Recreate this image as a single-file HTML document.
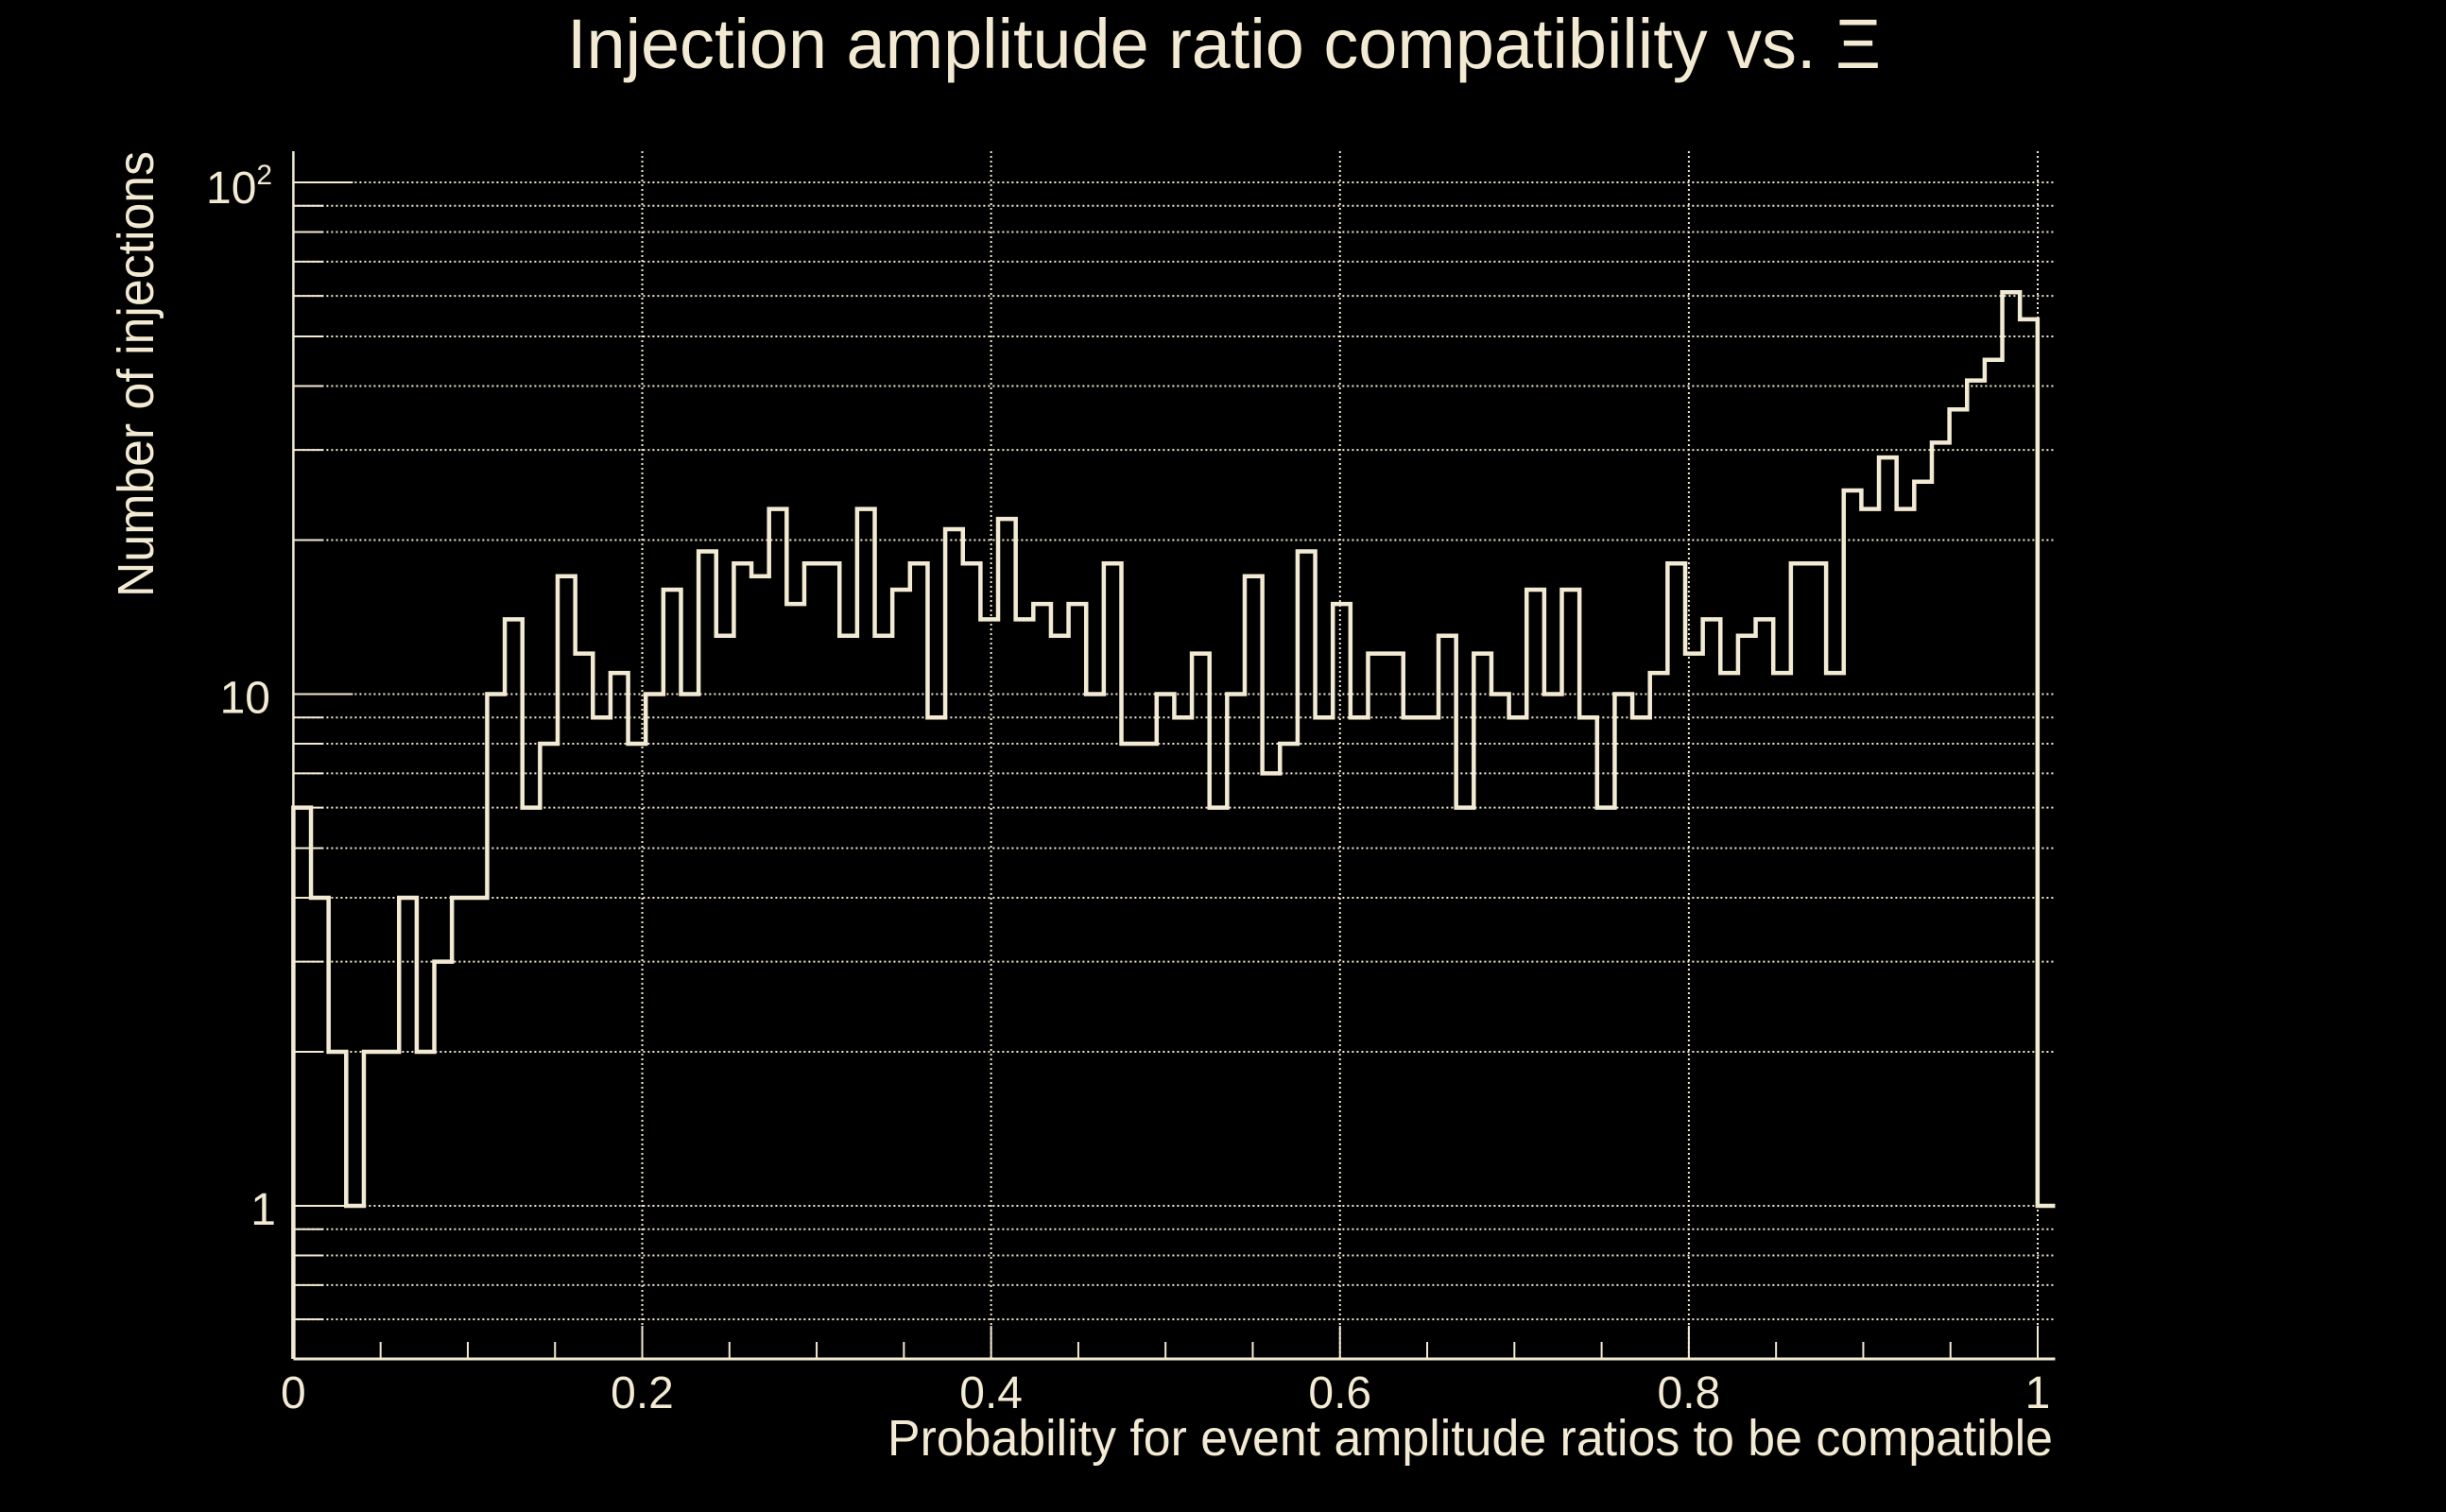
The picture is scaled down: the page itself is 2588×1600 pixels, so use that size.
<!DOCTYPE html>
<html><head><meta charset="utf-8"><style>
html,body{margin:0;padding:0;background:#000;}
svg{display:block;}
text{font-family:"Liberation Sans",sans-serif;fill:#f3ead3;}
</style></head><body>
<svg id="chart" width="2588" height="1600" viewBox="0 0 2588 1600" xmlns="http://www.w3.org/2000/svg">
<rect x="0" y="0" width="2588" height="1600" fill="#000"/>
<text x="600" y="72" font-size="74" textLength="1390" lengthAdjust="spacingAndGlyphs">Injection amplitude ratio compatibility vs.  Ξ</text>
<text transform="translate(162,632) rotate(-90)" font-size="54" textLength="472" lengthAdjust="spacingAndGlyphs">Number of injections</text>
<text x="2172" y="1540" font-size="54" text-anchor="end" textLength="1233" lengthAdjust="spacingAndGlyphs">Probability for event amplitude ratios to be compatible</text>
<g id="grid"></g>
<g id="axes"></g>
<g id="series"></g>
</svg>
<script>
const binCounts = [6,4,2,1,2,2,4,2,3,4,
4,10,14,6,8,17,12,9,11,8,
10,16,10,19,13,18,17,23,15,18,
18,13,23,13,16,18,9,21,18,14,
22,14,15,13,15,10,18,8,8,10,
9,12,6,10,17,7,8,19,9,15,
9,12,12,9,9,13,6,12,10,9,
16,10,16,9,6,10,9,11,18,12,
14,11,13,14,11,18,18,11,25,23,
29,23,26,31,36,41,45,61,54,1];
const binRange = [0, 1.01];
const xTickValues = [0, 0.2, 0.4, 0.6, 0.8, 1];
const xTickLabels = ["0", "0.2", "0.4", "0.6", "0.8", "1"];
const yMajorValues = [1, 10, 100];
const yMinorValues = [0.6,0.7,0.8,0.9,2,3,4,5,6,7,8,9,20,30,40,50,60,70,80,90];

const C = "#f3ead3";
const NS = "http://www.w3.org/2000/svg";
const X0 = 310.4, XS = 1845.6;
const xMax = 1.01;
function xs(v){ return X0 + v*XS; }
function ys(v){ return 1276 - 541.5*Math.log10(v); }
const TOP = 160, BOT = 1438, RIGHT = xs(xMax);

function mk(tag, attrs, parent){
  const el = document.createElementNS(NS, tag);
  for (const k in attrs) el.setAttribute(k, attrs[k]);
  parent.appendChild(el);
  return el;
}
const grid = document.getElementById('grid');
const axes = document.getElementById('axes');
const series = document.getElementById('series');

// horizontal gridlines + y ticks
yMajorValues.concat(yMinorValues).forEach(v => {
  const y = ys(v);
  const g = mk('line', {x1:X0, x2:RIGHT, y1:y, y2:y, stroke:C, 'stroke-width':2, 'stroke-dasharray':'2 3'}, grid);
  
  
  const major = yMajorValues.indexOf(v) >= 0;
  const t = mk('line', {x1:X0, x2:X0 + (major ? 63 : 32), y1:y, y2:y, stroke:C, 'stroke-width':2}, axes);
  
  
});
// vertical gridlines
xTickValues.slice(1).forEach(v => {
  const x = xs(v);
  const g = mk('line', {x1:x, x2:x, y1:TOP, y2:BOT, stroke:C, 'stroke-width':2, 'stroke-dasharray':'2 3'}, grid);
  
  
});
// axes lines
const la = mk('line', {x1:X0, x2:X0, y1:TOP, y2:BOT, stroke:C, 'stroke-width':2.5}, axes);


const ba = mk('line', {x1:X0, x2:RIGHT, y1:BOT, y2:BOT, stroke:C, 'stroke-width':3}, axes);


// x ticks every 0.05
for (let i = 0; i <= 20; i++) {
  const v = i*0.05;
  const major = i % 4 === 0;
  const t = mk('line', {x1:xs(v), x2:xs(v), y1:BOT, y2:BOT - (major ? 35 : 18), stroke:C, 'stroke-width':2}, axes);
  
  
}
// x tick labels
xTickValues.forEach((v, i) => {
  const t = mk('text', {x:xs(v), y:1490, 'font-size':48, 'text-anchor':'middle'}, axes);
  t.textContent = xTickLabels[i];
  
  
});
// y tick labels
const l1 = mk('text', {x:292, y:ys(1)+20, 'font-size':48, 'text-anchor':'end'}, axes);
l1.textContent = "1";


const l10 = mk('text', {x:286, y:ys(10)+20, 'font-size':48, 'text-anchor':'end'}, axes);
l10.textContent = "10";


const l100 = mk('text', {x:218, y:ys(100)+22, 'font-size':48}, axes);
l100.textContent = "10";


const sup = mk('tspan', {dy:-20, 'font-size':30}, l100);
sup.textContent = "2";

// histogram step line
const n = binCounts.length;
const w = (binRange[1]-binRange[0]) / n;
let d = "M" + xs(binRange[0]) + " " + BOT;
binCounts.forEach((c, i) => {
  const x1 = xs(binRange[0] + i*w), x2 = xs(binRange[0] + (i+1)*w);
  const y = ys(c);
  d += " L" + x1 + " " + y + " L" + Math.min(x2, RIGHT) + " " + y;
});
const p = mk('path', {d:d, fill:'none', stroke:C, 'stroke-width':4.5, 'stroke-linejoin':'miter'}, series);


</script>
</body></html>
